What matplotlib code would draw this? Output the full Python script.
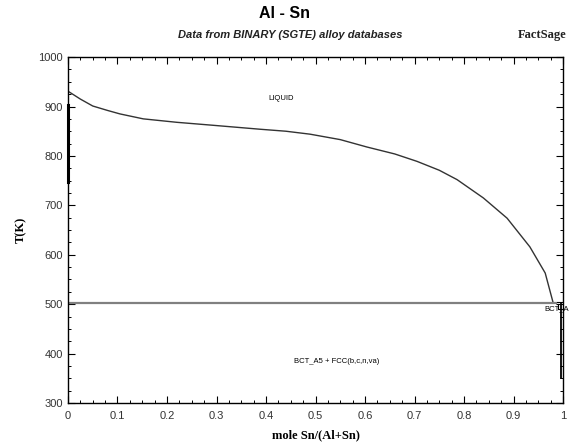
import matplotlib.pyplot as plt
from matplotlib.ticker import MultipleLocator

# liquidus
liq_x = [0.0, 0.025, 0.05, 0.08, 0.105, 0.152, 0.22, 0.293, 0.388, 0.44, 0.489,
         0.55, 0.604, 0.66, 0.705, 0.75, 0.786, 0.839, 0.887, 0.933, 0.964, 0.98]
liq_t = [931, 915, 901, 892, 885, 875, 868, 862, 854, 850, 844,
         833, 818, 804, 789, 771, 752, 715, 674, 616, 563, 503]

eutectic_x = [0.0, 0.985]
eutectic_t = [503, 503]

al_side_x = [0.0, 0.0]
al_side_t = [903, 748]

sn_side_x = [0.995, 0.995]
sn_side_t = [503, 350]

x_ticks = [0, 0.1, 0.2, 0.3, 0.4, 0.5, 0.6, 0.7, 0.8, 0.9, 1]
x_labels = ["0", "0.1", "0.2", "0.3", "0.4", "0.5", "0.6", "0.7", "0.8", "0.9", "1"]
y_ticks = [300, 400, 500, 600, 700, 800, 900, 1000]

fig = plt.figure(figsize=(5.69, 4.46), dpi=100)
ax = fig.add_axes([0.1195, 0.0964, 0.87, 0.7756])

ax.plot(liq_x, liq_t, color="#333333", lw=1.0)
ax.plot(eutectic_x, eutectic_t, color="#808080", lw=1.6)
ax.plot(al_side_x, al_side_t, color="black", lw=2.2, clip_on=False)
ax.plot(sn_side_x, sn_side_t, color="black", lw=1.3)
# small box near the Sn-rich eutectic
ax.plot([0.99, 0.99, 1.0], [500, 490, 490], color="black", lw=0.8)
ax.plot([0.988, 1.0], [505, 505], color="black", lw=0.8)

ax.text(0.43, 917, "LIQUID", fontsize=5.5, family="Liberation Sans",
        ha="center", va="center")
ax.text(0.543, 383, "BCT_A5 + FCC(b,c,n,va)", fontsize=5.5, family="Liberation Sans",
        ha="center", va="center")
ax.text(0.962, 491, "BCT_A", fontsize=5.5, family="Liberation Sans",
        ha="left", va="center", clip_on=False)

ax.set_xlim(0, 1)
ax.set_ylim(300, 1000)
ax.set_xticks(x_ticks)
ax.set_xticklabels(x_labels)
ax.set_yticks(y_ticks)
ax.xaxis.set_minor_locator(MultipleLocator(0.025))
ax.yaxis.set_minor_locator(MultipleLocator(25))
ax.tick_params(which="both", direction="in", top=True, right=True, colors="black",
               labelcolor="#333333", labelsize=8)
ax.tick_params(which="major", length=5, width=0.8)
ax.tick_params(which="minor", length=2.5, width=0.7)
ax.tick_params(axis="x", pad=6)
for lab in ax.get_xticklabels() + ax.get_yticklabels():
    lab.set_family("Liberation Sans")
for sp in ax.spines.values():
    sp.set_linewidth(1.0)

ax.set_xlabel("mole Sn/(Al+Sn)", family="Liberation Serif", fontweight="bold",
              fontsize=9, labelpad=6)
ax.set_ylabel("T(K)", family="Liberation Serif", fontweight="bold", fontsize=9,
              labelpad=8)

fig.text(0.5, 0.97, "Al - Sn", ha="center", va="center", fontsize=11.5,
         fontweight="bold", family="Liberation Sans")
fig.text(0.51, 0.921, "Data from BINARY (SGTE) alloy databases", ha="center",
         va="center", fontsize=8, fontweight="bold", style="italic",
         family="Liberation Sans", color="#222222")
fig.text(0.953, 0.921, "FactSage", ha="center", va="center", fontsize=9,
         fontweight="bold", family="Liberation Serif", color="#222222")

fig.savefig("out.png", dpi=100)
